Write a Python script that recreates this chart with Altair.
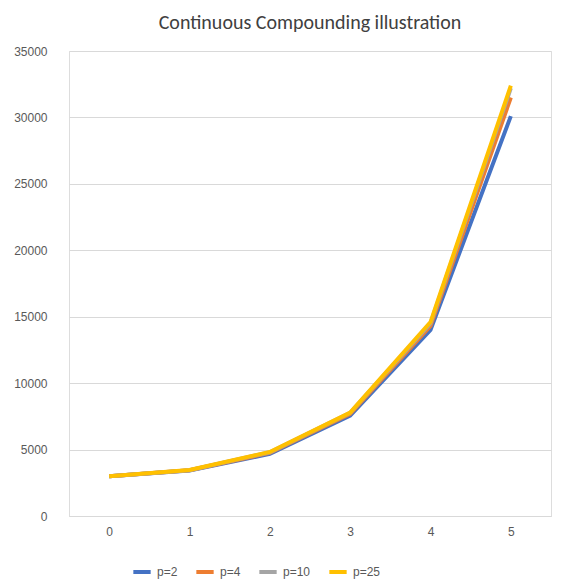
import altair as alt
import pandas as pd

years = [0, 1, 2, 3, 4, 5]
series = ["p=2", "p=4", "p=10", "p=25"]
colors = ["#4472C4", "#ED7D31", "#A5A5A5", "#FFC000"]
p2 = [3000, 3420, 4680, 7550, 14000, 30100]
p4 = [3000, 3440, 4750, 7680, 14300, 31500]
p10 = [3000, 3450, 4800, 7760, 14500, 32200]
p25 = [3000, 3460, 4820, 7790, 14600, 32400]

rows = []
for name, vals in zip(series, [p2, p4, p10, p25]):
    for x, v in zip(years, vals):
        rows.append({"x": str(x), "value": v, "series": name})
df = pd.DataFrame(rows)

chart = alt.Chart(df).mark_line(strokeWidth=4).encode(
    x=alt.X("x:O", title=None, scale=alt.Scale(paddingOuter=0.5, paddingInner=0),
            axis=alt.Axis(labelAngle=0, domain=True, domainColor="#d9d9d9", ticks=False,
                          labelColor="#595959", labelFontSize=12, labelPadding=10)),
    y=alt.Y("value:Q", title=None, scale=alt.Scale(domain=[0, 35000]),
            axis=alt.Axis(values=list(range(0, 35001, 5000)), domain=False, ticks=False,
                          gridColor="#d9d9d9", labelColor="#595959", labelFontSize=12,
                          labelPadding=22, format="d")),
    color=alt.Color("series:N", sort=series, scale=alt.Scale(domain=series, range=colors),
                    legend=alt.Legend(orient="none", legendX=62, legendY=510, title=None,
                                      direction="horizontal",
                                      symbolType="stroke", symbolStrokeWidth=4, symbolSize=300,
                                      labelFontSize=12, labelColor="#595959")),
    order=alt.Order("series:N"),
).properties(
    width=482, height=465,
    title=alt.TitleParams("Continuous Compounding illustration", fontSize=20,
                          font="Calibri, Carlito, Liberation Sans, sans-serif",
                          fontWeight="normal", color="#404040", anchor="middle", offset=12),
).configure_view(stroke=None).configure(font="Liberation Sans")

chart.save("out.html", embed_options={"renderer": "svg", "actions": False})
